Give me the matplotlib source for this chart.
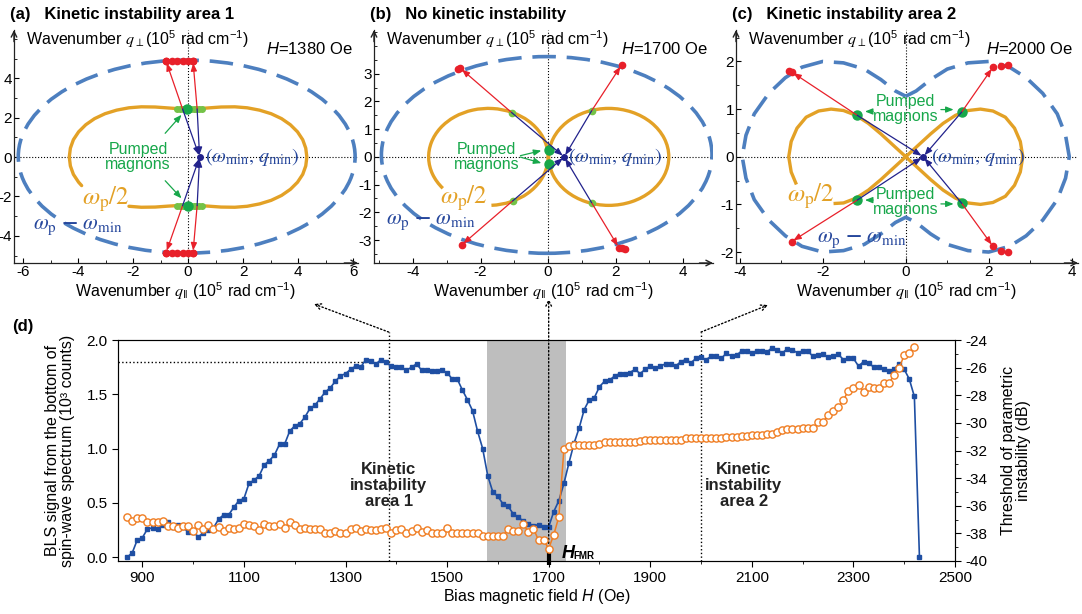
import numpy as np
import matplotlib
matplotlib.use("Agg")
import matplotlib.pyplot as plt
from matplotlib.patches import Ellipse, Arc
from matplotlib.ticker import MultipleLocator, FormatStrFormatter

plt.rcParams['font.family'] = ['Liberation Sans', 'DejaVu Sans']
plt.rcParams['mathtext.fontset'] = 'custom'
plt.rcParams['mathtext.rm'] = 'Liberation Sans'
plt.rcParams['mathtext.it'] = 'STIXGeneral:italic'
plt.rcParams['mathtext.bf'] = 'Liberation Sans:bold'
plt.rcParams['mathtext.sf'] = 'Liberation Sans:italic'
plt.rcParams['mathtext.fallback'] = 'stix'
plt.rcParams['axes.unicode_minus'] = False

# ---------------- data: panel (d) ----------------
field_oe = [
    870, 880, 890, 900, 910, 920, 930, 940, 950, 960,
    970, 980, 990, 1000, 1010, 1020, 1030, 1040, 1050, 1060,
    1070, 1080, 1090, 1100, 1110, 1120, 1130, 1140, 1150, 1160,
    1170, 1180, 1190, 1200, 1210, 1220, 1230, 1240, 1250, 1260,
    1270, 1280, 1290, 1300, 1310, 1320, 1330, 1340, 1350, 1360,
    1370, 1380, 1390, 1400, 1410, 1420, 1430, 1440, 1450, 1460,
    1470, 1480, 1490, 1500, 1510, 1520, 1530, 1540, 1550, 1560,
    1570, 1580, 1590, 1600, 1610, 1620, 1630, 1640, 1650, 1660,
    1670, 1680, 1690, 1700, 1710, 1720, 1730, 1740, 1750, 1760,
    1770, 1780, 1790, 1800, 1810, 1820, 1830, 1840, 1850, 1860,
    1870, 1880, 1890, 1900, 1910, 1920, 1930, 1940, 1950, 1960,
    1970, 1980, 1990, 2000, 2010, 2020, 2030, 2040, 2050, 2060,
    2070, 2080, 2090, 2100, 2110, 2120, 2130, 2140, 2150, 2160,
    2170, 2180, 2190, 2200, 2210, 2220, 2230, 2240, 2250, 2260,
    2270, 2280, 2290, 2300, 2310, 2320, 2330, 2340, 2350, 2360,
    2370, 2380, 2390, 2400, 2410, 2420, 2430,
]
bls_signal = [
    0.00, 0.04, 0.16, 0.18, 0.26, 0.27, 0.26, 0.30, 0.32, 0.28,
    0.30, 0.28, 0.23, 0.23, 0.19, 0.22, 0.25, 0.27, 0.35, 0.39,
    0.39, 0.46, 0.52, 0.54, 0.68, 0.71, 0.75, 0.85, 0.89, 0.94,
    1.04, 1.04, 1.16, 1.21, 1.23, 1.29, 1.37, 1.40, 1.46, 1.52,
    1.56, 1.62, 1.67, 1.69, 1.73, 1.76, 1.75, 1.82, 1.81, 1.78,
    1.82, 1.80, 1.76, 1.75, 1.75, 1.72, 1.75, 1.78, 1.72, 1.72,
    1.71, 1.71, 1.72, 1.70, 1.64, 1.64, 1.54, 1.45, 1.35, 1.16,
    1.00, 0.75, 0.60, 0.56, 0.49, 0.47, 0.40, 0.37, 0.33, 0.31,
    0.29, 0.30, 0.28, 0.28, 0.42, 0.52, 0.68, 0.87, 1.05, 1.19,
    1.36, 1.45, 1.47, 1.57, 1.62, 1.63, 1.67, 1.69, 1.69, 1.70,
    1.73, 1.69, 1.73, 1.76, 1.74, 1.76, 1.78, 1.78, 1.76, 1.80,
    1.82, 1.79, 1.83, 1.84, 1.82, 1.85, 1.85, 1.83, 1.88, 1.85,
    1.86, 1.90, 1.90, 1.88, 1.90, 1.90, 1.89, 1.93, 1.91, 1.88,
    1.92, 1.91, 1.88, 1.90, 1.90, 1.85, 1.86, 1.87, 1.84, 1.85,
    1.87, 1.82, 1.83, 1.83, 1.76, 1.80, 1.79, 1.75, 1.75, 1.73,
    1.71, 1.73, 1.78, 1.73, 1.64, 1.48, 0.00,
]
threshold_db = [
    -36.8, -37.1, -36.9, -36.9, -37.2, -37.2, -37.2, -37.1, -37.5, -37.5,
    -37.6, -37.5, -37.5, -37.8, -37.4, -37.7, -37.4, -37.7, -37.55, -37.8,
    -37.6, -37.7, -37.6, -37.35, -37.4, -37.5, -37.75, -37.35, -37.5, -37.5,
    -37.35, -37.6, -37.2, -37.4, -37.7, -37.6, -37.7, -37.7, -37.7, -38.0,
    -38.0, -37.8, -38.0, -38.0, -37.7, -37.6, -37.8, -37.65, -37.75, -37.75,
    -37.7, -37.6, -38.0, -37.75, -37.7, -38.0, -37.8, -37.6, -37.9, -37.75,
    -38.0, -38.0, -38.0, -37.6, -37.95, -38.0, -38.0, -38.0, -38.0, -38.0,
    -38.2, -38.2, -38.2, -38.2, -38.2, -37.7, -37.8, -37.8, -37.3, -37.9,
    -37.65, -38.5, -38.5, -39.1, -38.1, -36.8, -31.9, -31.65, -31.6, -31.6,
    -31.6, -31.6, -31.6, -31.55, -31.4, -31.35, -31.35, -31.35, -31.35, -31.35,
    -31.35, -31.3, -31.25, -31.25, -31.25, -31.25, -31.25, -31.25, -31.25, -31.25,
    -31.1, -31.1, -31.1, -31.1, -31.1, -31.1, -31.1, -31.1, -31.05, -31.05,
    -31.05, -30.98, -30.98, -30.86, -30.86, -30.86, -30.79, -30.79, -30.69, -30.5,
    -30.45, -30.45, -30.45, -30.38, -30.38, -30.38, -29.97, -29.97, -29.41, -29.17,
    -28.86, -28.38, -27.66, -27.49, -27.25, -27.73, -27.37, -27.49, -27.49, -27.13,
    -27.13, -26.53, -26.05, -25.08, -24.96, -24.53, np.nan,
]
shade_range = (1578, 1735)
h_fmr = 1700
area1_field = 1385
area2_field = 2000
ref_level = 1.8
ref_level_end = 1340

# ---------------- data: panel (a), H = 1380 Oe ----------------
a_ellipse = (-0.05, 0.02, 12.25, 9.8)     # centre x, centre y, width, height
a_half_x = [-2.15, -1.7, -1.2, -0.7, -0.3, 0.0, 0.3, 0.7, 1.2, 1.7, 2.15, 2.6, 3.02, 3.40, 3.72, 3.98, 4.17, 4.28, 4.32,
            4.28, 4.17, 3.98, 3.72, 3.40, 3.02, 2.6, 2.15, 1.7, 1.2, 0.7, 0.3, 0.0, -0.3, -0.7, -1.2, -1.7, -2.15,
            -2.6, -3.02, -3.40, -3.72, -3.98, -4.17, -4.28, -4.32, -4.28, -4.17, -3.98, -3.87]
a_half_y = [-2.5, -2.55, -2.54, -2.49, -2.46, -2.46, -2.46, -2.49, -2.54, -2.55, -2.5, -2.38, -2.2, -1.95, -1.64, -1.28, -0.88, -0.45, 0.0,
            0.45, 0.88, 1.28, 1.64, 1.95, 2.2, 2.38, 2.5, 2.55, 2.54, 2.49, 2.45, 2.44, 2.45, 2.49, 2.54, 2.55, 2.5,
            2.38, 2.2, 1.95, 1.64, 1.28, 0.88, 0.45, 0.0, -0.45, -0.88, -1.28, -1.45]
a_qmin = (0.42, 0.0)
a_pump_x = [-0.2, 0.33, -0.2, 0.33]
a_pump_y = [2.44, 2.44, -2.47, -2.47]
a_end_x = [-0.8, 0.18, -0.8, 0.18]
a_end_y = [4.87, 4.87, -4.85, -4.85]
a_reddots_x = [-0.8, -0.6, -0.4, -0.2, 0.0, 0.18]
a_band_x = [-0.4, -0.3, -0.2, -0.1, 0.1, 0.2, 0.3, 0.4, 0.5]
a_big_x = [-0.05, 0.0]
a_big_y = [2.44, -2.47]

# ---------------- data: panel (b), H = 1700 Oe ----------------
b_ellipse = (-0.04, 0.07, 9.8, 7.1)
b_lobes = [(-1.77, 0.0, 3.54, 3.5, -87, 220), (1.8, 0.0, 3.56, 3.5, 0, 360)]  # cx, cy, w, h, theta1, theta2
b_qmin = (0.48, 0.0)
b_pump_x = [-1.08, 1.29, -1.05, 1.29]
b_pump_y = [1.6, 1.66, -1.59, -1.65]
b_end_x = [-2.6, 2.18, -2.56, 2.1]
b_end_y = [3.2, 3.32, -3.18, -3.28]
b_extra_x = [-2.68, 2.2, 2.28]
b_extra_y = [3.18, -3.3, -3.32]
b_big_x = [0.02, 0.02]
b_big_y = [0.25, -0.25]

# ---------------- data: panel (c), H = 2000 Oe ----------------
c_dash_x = [0.0, 0.25, 0.6, 1.0, 1.5, 2.0, 2.5, 2.9, 3.3, 3.65, 3.85, 3.94, 3.85, 3.65, 3.3, 2.9, 2.5, 2.0, 1.5, 1.0, 0.6, 0.25,
            0.0, -0.25, -0.6, -1.0, -1.5, -2.0, -2.5, -2.9, -3.3, -3.65, -3.85, -3.94, -3.85, -3.65, -3.3, -2.9, -2.5,
            -2.0, -1.5, -1.0, -0.6, -0.25, 0.0]
c_dash_y = [1.27, 1.38, 1.62, 1.84, 1.97, 2.0, 1.88, 1.66, 1.33, 0.9, 0.45, 0.0, -0.45, -0.9, -1.33, -1.66, -1.88, -2.0, -1.97,
            -1.84, -1.62, -1.38, -1.27, -1.38, -1.62, -1.84, -1.97, -2.0, -1.88, -1.66, -1.33, -0.9, -0.45, 0.0, 0.45, 0.9,
            1.33, 1.66, 1.88, 2.0, 1.97, 1.84, 1.62, 1.38, 1.27]
c_half_x = [-1.7, -1.5, -1.2, -0.9, -0.6, -0.3, 0.0, 0.3, 0.6, 0.9, 1.2, 1.5, 1.8, 2.1, 2.4, 2.62, 2.76, 2.82, 2.76, 2.62,
            2.4, 2.1, 1.8, 1.5, 1.2, 0.9, 0.6, 0.3, 0.0, -0.3, -0.6, -0.9, -1.2, -1.5, -1.8, -2.1, -2.4, -2.62, -2.76,
            -2.82, -2.76, -2.65]
c_half_y = [-0.98, -0.97, -0.87, -0.7, -0.48, -0.24, 0.0, 0.24, 0.48, 0.7, 0.87, 0.97, 1.0, 0.96, 0.83, 0.6, 0.32, 0.0, -0.32,
            -0.6, -0.83, -0.96, -1.0, -0.97, -0.87, -0.7, -0.48, -0.24, 0.0, 0.24, 0.48, 0.7, 0.87, 0.97, 1.0, 0.96, 0.83,
            0.6, 0.32, 0.0, -0.32, -0.55]
c_qmin = (0.42, 0.0)
c_pump_x = [-1.17, 1.35, -1.17, 1.35]
c_pump_y = [0.87, 0.94, -0.91, -0.98]
c_end_x = [-2.75, 2.1, -2.75, 2.1]
c_end_y = [1.78, 1.88, -1.78, -1.88]
c_extra_x = [-2.82, 2.3, 2.46, 2.3, 2.46]
c_extra_y = [1.8, 1.9, 1.92, -1.97, -2.0]

# ---------------- colours ----------------
DASH_BLUE = '#4d7fbf'
ORANGE = '#e3a126'
RED = '#e8202a'
NAVY = '#22228c'
GREEN = '#17a74a'
LGREEN = '#74c247'
TXT_BLUE = '#26479c'
BLS_BLUE = '#1f4fa3'
THR_ORANGE = '#f07d22'

W, H = 1082, 614
fig = plt.figure(figsize=(W / 100, H / 100), dpi=100)


def px_rect(left, right, top, bottom):
    return [left / W, 1 - bottom / H, (right - left) / W, (bottom - top) / H]


def setup_panel(ax, xlim, ylim, xticks, yticks, xmin, ymin):
    ax.set_xlim(*xlim)
    ax.set_ylim(*ylim)
    for s in ['top', 'right']:
        ax.spines[s].set_visible(False)
    for s in ['left', 'bottom']:
        ax.spines[s].set_color('#222222')
        ax.spines[s].set_linewidth(0.9)
    ax.set_xticks(xticks)
    ax.set_yticks(yticks)
    ax.xaxis.set_minor_locator(MultipleLocator(xmin))
    ax.yaxis.set_minor_locator(MultipleLocator(ymin))
    ax.tick_params(which='both', direction='in', labelsize=11, pad=1.5)
    ax.tick_params(which='major', length=3.5, width=0.8)
    ax.tick_params(which='minor', length=2, width=0.6)
    ax.xaxis.set_major_formatter(FormatStrFormatter('%g'))
    ax.yaxis.set_major_formatter(FormatStrFormatter('%g'))
    ax.axhline(0, ls=':', color='k', lw=0.8, zorder=1)
    ax.axvline(0, ls=':', color='k', lw=0.8, zorder=1)
    # arrow heads on the axes
    ax.annotate('', xy=(1.0, 0), xytext=(0.96, 0), xycoords='axes fraction',
                arrowprops=dict(arrowstyle='->', lw=1.0, color='#222222', shrinkA=0, shrinkB=0))
    ax.annotate('', xy=(0, 1.0), xytext=(0, 0.95), xycoords='axes fraction',
                arrowprops=dict(arrowstyle='->', lw=1.0, color='#222222', shrinkA=0, shrinkB=0))
    ax.text(0.035, 0.965, r'Wavenumber $q_{\perp}$(10$^5$ rad cm$^{-1}$)', transform=ax.transAxes,
            fontsize=11.5, ha='left', va='center')
    ax.set_xlabel(r'Wavenumber $q_{\Vert}$ (10$^5$ rad cm$^{-1}$)', fontsize=11.5, labelpad=0.5)


def arrow(ax, x0, y0, x1, y1, color):
    ax.annotate('', xy=(x1, y1), xytext=(x0, y0),
                arrowprops=dict(arrowstyle='-|>,head_length=0.45,head_width=0.18', color=color,
                                lw=0.9, shrinkA=0, shrinkB=1.5), zorder=5)


def scatter_arrows(ax, pump_x, pump_y, end_x, end_y, qmin):
    for px, py, ex, ey in zip(pump_x, pump_y, end_x, end_y):
        arrow(ax, px, py, ex, ey, RED)
        arrow(ax, px, py, qmin[0], qmin[1], NAVY)
    ax.plot(end_x, end_y, 'o', color=RED, ms=4.5, zorder=6)
    ax.plot([qmin[0]], [qmin[1]], 'o', color=NAVY, ms=4, zorder=6)


def omega_labels(ax, qpos, half_pos, diff_pos):
    ax.text(qpos[0], qpos[1], r'$(\omega_{\rm min},\,q_{\rm min})$', color=TXT_BLUE, fontsize=14.5,
            ha='left', va='center', math_fontfamily='stix')
    ax.text(half_pos[0], half_pos[1], r'$\omega_{\rm p}/2$', color=ORANGE, fontsize=18,
            ha='center', va='center', math_fontfamily='stix')
    ax.text(diff_pos[0], diff_pos[1], r'$\omega_{\rm p}\ \mathbf{-}\ \omega_{\rm min}$', color=TXT_BLUE,
            fontsize=15.5, ha='center', va='center', math_fontfamily='stix')


dash_style = (0, (6.5, 3))
green_head = dict(arrowstyle='-|>,head_length=0.45,head_width=0.18', color=GREEN, lw=0.9)

# ================= panel (a) =================
ax_a = fig.add_axes(px_rect(14, 358, 30, 263))
setup_panel(ax_a, (-6.33, 6.18), (-5.38, 6.45), [-6, -4, -2, 0, 2, 4, 6], [-4, -2, 0, 2, 4], 1, 1)
ax_a.add_patch(Ellipse(a_ellipse[:2], a_ellipse[2], a_ellipse[3], fill=False, ec=DASH_BLUE,
                       lw=2.6, ls=dash_style, zorder=2))
ax_a.plot(a_half_x, a_half_y, color=ORANGE, lw=2.4, zorder=3, solid_capstyle='round')
ax_a.plot(a_band_x, [a_pump_y[0]] * len(a_band_x), 'o', color=LGREEN, ms=4, zorder=4)
ax_a.plot(a_band_x, [a_pump_y[2]] * len(a_band_x), 'o', color=LGREEN, ms=4, zorder=4)
ax_a.plot(a_big_x, a_big_y, 'o', color=GREEN, ms=6.5, zorder=4)
scatter_arrows(ax_a, a_pump_x, a_pump_y, a_end_x, a_end_y, a_qmin)
ax_a.plot(a_reddots_x, [a_end_y[0]] * len(a_reddots_x), 'o', color=RED, ms=4.5, zorder=6)
ax_a.plot(a_reddots_x, [a_end_y[2]] * len(a_reddots_x), 'o', color=RED, ms=4.5, zorder=6)
ax_a.text(-1.82, 0.0, 'Pumped\nmagnons', color=GREEN, fontsize=11.5, ha='center', va='center', linespacing=1.0)
ax_a.annotate('', xy=(-0.17, 2.25), xytext=(-0.9, 1.1), arrowprops=green_head)
ax_a.annotate('', xy=(-0.17, -2.2), xytext=(-0.9, -1.1), arrowprops=green_head)
omega_labels(ax_a, (0.62, 0.0), (-3.0, -2.15), (-4.0, -3.55))
ax_a.text(0.985, 0.92, r'$\mathsf{H}$=1380 Oe', transform=ax_a.transAxes, fontsize=12, ha='right', va='center')

# ================= panel (b) =================
ax_b = fig.add_axes(px_rect(374, 713, 30, 263))
setup_panel(ax_b, (-5.16, 4.89), (-3.83, 4.58), [-4, -2, 0, 2, 4], [-3, -2, -1, 0, 1, 2, 3], 1, 0.5)
ax_b.add_patch(Ellipse(b_ellipse[:2], b_ellipse[2], b_ellipse[3], fill=False, ec=DASH_BLUE,
                       lw=2.6, ls=dash_style, zorder=2))
for cx, cy, w, h, t1, t2 in b_lobes:
    ax_b.add_patch(Arc((cx, cy), w, h, theta1=t1, theta2=t2, color=ORANGE, lw=2.4, zorder=3))
ax_b.plot(b_pump_x, b_pump_y, 'o', color=LGREEN, ms=4.5, zorder=4)
ax_b.plot(b_big_x, b_big_y, 'o', color=GREEN, ms=6.5, zorder=4)
scatter_arrows(ax_b, b_pump_x, b_pump_y, b_end_x, b_end_y, b_qmin)
ax_b.plot(b_extra_x, b_extra_y, 'o', color=RED, ms=4.5, zorder=6)
ax_b.text(-1.82, 0.0, 'Pumped\nmagnons', color=GREEN, fontsize=11.5, ha='center', va='center', linespacing=1.0)
for ty in b_big_y:
    ax_b.annotate('', xy=(-0.12, ty), xytext=(-0.9, 0.02), arrowprops=green_head)
omega_labels(ax_b, (0.6, 0.0), (-2.49, -1.5), (-3.48, -2.34))
ax_b.text(0.985, 0.92, r'$\mathsf{H}$=1700 Oe', transform=ax_b.transAxes, fontsize=12, ha='right', va='center')

# ================= panel (c) =================
ax_c = fig.add_axes(px_rect(736, 1078, 30, 263))
setup_panel(ax_c, (-4.09, 4.15), (-2.23, 2.66), [-4, -2, 0, 2, 4], [-2, -1, 0, 1, 2], 1, 0.5)
ax_c.plot(c_dash_x, c_dash_y, color=DASH_BLUE, lw=2.6, ls=dash_style, zorder=2)
ax_c.plot(c_half_x, c_half_y, color=ORANGE, lw=2.4, zorder=3)
ax_c.plot(c_pump_x, c_pump_y, 'o', color=GREEN, ms=6.5, zorder=4)
scatter_arrows(ax_c, c_pump_x, c_pump_y, c_end_x, c_end_y, c_qmin)
ax_c.plot(c_extra_x, c_extra_y, 'o', color=RED, ms=4.5, zorder=6)
for ty, yl, yr in [(1.0, 0.95, 0.99), (-0.95, -0.91, -0.99)]:
    ax_c.text(0.0, ty, 'Pumped\nmagnons', color=GREEN, fontsize=11.5, ha='center', va='center', linespacing=0.95)
    ax_c.annotate('', xy=(-1.05, yl), xytext=(-0.72, yl), arrowprops=green_head)
    ax_c.annotate('', xy=(1.22, yr), xytext=(0.78, yr), arrowprops=green_head)
omega_labels(ax_c, (0.6, 0.0), (-2.28, -0.83), (-1.07, -1.74))
ax_c.text(0.985, 0.92, r'$\mathsf{H}$=2000 Oe', transform=ax_c.transAxes, fontsize=12, ha='right', va='center')

# panel titles
fig.text(10 / W, 1 - 14 / H, '(a)   Kinetic instability area 1', fontsize=12, fontweight='bold', va='center')
fig.text(370 / W, 1 - 14 / H, '(b)   No kinetic instability', fontsize=12, fontweight='bold', va='center')
fig.text(732 / W, 1 - 14 / H, '(c)   Kinetic instability area 2', fontsize=12, fontweight='bold', va='center')
fig.text(12 / W, 1 - 326 / H, '(d)', fontsize=12, fontweight='bold', va='center')

# ================= panel (d) =================
axd = fig.add_axes(px_rect(118, 955, 340, 561))
axd.axvspan(*shade_range, color='#bebebe', lw=0, zorder=0)
axd.plot(field_oe, bls_signal, '-s', color=BLS_BLUE, ms=3.3, lw=1.2, zorder=3)
axd.set_xlim(852, 2500)
axd.set_ylim(-0.035, 2.0)
axd.set_xticks(range(900, 2501, 200))
axd.xaxis.set_minor_locator(MultipleLocator(100))
axd.yaxis.set_major_locator(MultipleLocator(0.5))
axd.yaxis.set_major_formatter(FormatStrFormatter('%.1f'))
axd.tick_params(which='both', direction='out', labelsize=11)
axd.tick_params(which='major', length=4)
axd.tick_params(which='minor', length=2.5)
for s in axd.spines.values():
    s.set_color('#444444')
axd.set_xlabel(r'Bias magnetic field $\mathsf{H}$ (Oe)', fontsize=11.5, labelpad=1)
axd.set_ylabel('BLS signal from the bottom of\nspin-wave spectrum (10³ counts)', fontsize=11.5,
               linespacing=1.0, labelpad=8)

axr = axd.twinx()
axr.plot(field_oe, threshold_db, '-o', color=THR_ORANGE, mfc='white', mec=THR_ORANGE, ms=5.2, mew=1.0,
         lw=1.1, zorder=2)
axr.set_ylim(-40, -24)
axr.yaxis.set_major_locator(MultipleLocator(2))
axr.yaxis.set_minor_locator(MultipleLocator(1))
axr.tick_params(which='both', direction='out', labelsize=11)
axr.tick_params(which='major', length=4)
axr.tick_params(which='minor', length=2.5)
axr.set_ylabel('Threshold of parametric\ninstability (dB)', fontsize=11.5, linespacing=1.0, labelpad=10)

# reference lines and connectors to the upper panels
axd.plot([852, ref_level_end], [ref_level, ref_level], ls=':', color='k', lw=1)
knee = 1.036
tips = {area1_field: (314 / W, 1 - 304 / H), area2_field: (768 / W, 1 - 305 / H)}
xt = axd.get_xaxis_transform()
for fld, tip in tips.items():
    axd.plot([fld, fld], [0, knee], transform=xt, ls=':', color='k', lw=1, clip_on=False)
    axd.annotate('', xy=tip, xycoords='figure fraction', xytext=(fld, knee), textcoords=xt,
                 arrowprops=dict(arrowstyle='->', ls=':', lw=1, color='k', shrinkA=0, shrinkB=0))
axd.annotate('', xy=(h_fmr, (561 - 299) / 221), xycoords=xt, xytext=(h_fmr, 0.08), textcoords=xt,
             arrowprops=dict(arrowstyle='->', ls=':', lw=1, color='k', shrinkA=0, shrinkB=0))
axd.plot([h_fmr, h_fmr], [0.04, -0.07], color='k', lw=3, clip_on=False, zorder=5, solid_capstyle='butt')
axd.text(1726, -0.01, 'H', fontsize=13, fontweight='bold', style='italic', ha='left', va='baseline')
axd.text(1749, -0.015, 'FMR', fontsize=7, fontweight='bold', ha='left', va='baseline')

for fld, lab in [(area1_field, 'Kinetic\ninstability\narea 1'), (2084, 'Kinetic\ninstability\narea 2')]:
    axd.text(fld, 0.66, lab, fontsize=12, fontweight='bold', ha='center', va='center', linespacing=1.05,
             color='#222222', zorder=6)

fig.savefig('out.png', dpi=100)
